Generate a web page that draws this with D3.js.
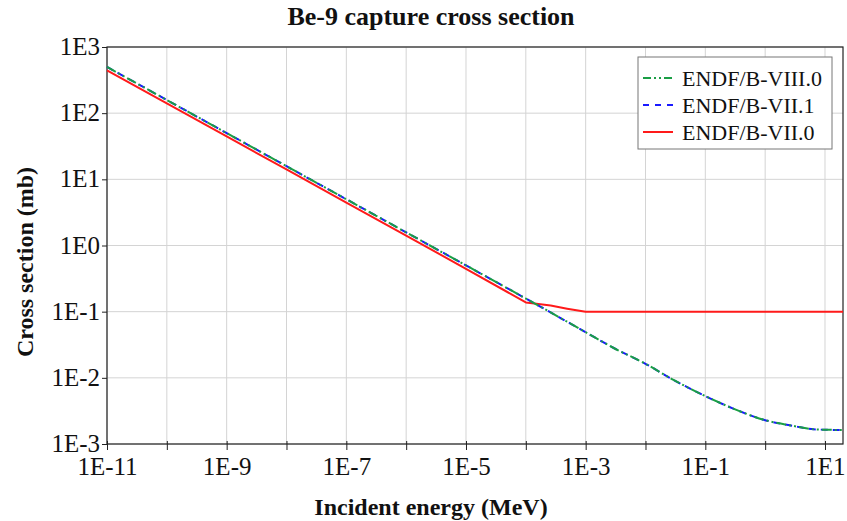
<!DOCTYPE html>
<html>
<head>
<meta charset="utf-8">
<script src="https://cdn.jsdelivr.net/npm/d3@7"></script>
<style>
  body { margin: 0; background: #fff; }
  svg { display: block; font-family: "Liberation Serif", "Times New Roman", serif; }
</style>
</head>
<body>
<svg id="chart" width="847" height="521"></svg>
<script>
// values (MeV, mb)
const energyB8 = [1e-11, 1e-10, 1e-9, 1e-8, 1e-7, 1e-6, 1e-5, 1e-4, 1e-3, 3e-3, 1e-2, 3e-2, 0.1, 0.3, 1, 3, 6.4, 11, 20];
const sigmaB8 = [500, 158, 50, 15.8, 5.0, 1.58, 0.5, 0.158, 0.049, 0.028, 0.0163, 0.0092, 0.0053, 0.0034, 0.00229, 0.00187, 0.00167, 0.00164, 0.00163];
const energyB71 = [1e-11, 1e-10, 1e-9, 1e-8, 1e-7, 1e-6, 1e-5, 1e-4, 1e-3, 3e-3, 1e-2, 3e-2, 0.1, 0.3, 1, 3, 6.4, 11, 20];
const sigmaB71 = [500, 158, 50, 15.8, 5.0, 1.58, 0.5, 0.158, 0.049, 0.028, 0.0163, 0.0092, 0.0053, 0.0034, 0.00229, 0.00187, 0.00167, 0.00164, 0.00163];
const energyB70 = [1e-11, 1e-10, 1e-9, 1e-8, 1e-7, 1e-6, 1e-5, 1e-4, 1.5e-4, 2.6e-4, 4.9e-4, 7e-4, 1e-3, 20];
const sigmaB70 = [445, 141, 44.5, 14.1, 4.45, 1.41, 0.445, 0.138, 0.132, 0.124, 0.111, 0.105, 0.1, 0.1];

const xTicks = [1e-11, 1e-10, 1e-9, 1e-8, 1e-7, 1e-6, 1e-5, 1e-4, 1e-3, 1e-2, 1e-1, 1, 10];
const xTickLabels = ['1E-11', '', '1E-9', '', '1E-7', '', '1E-5', '', '1E-3', '', '1E-1', '', '1E1'];
const yTicks = [1e-3, 1e-2, 1e-1, 1, 10, 100, 1000];
const yTickLabels = ['1E-3', '1E-2', '1E-1', '1E0', '1E1', '1E2', '1E3'];

const seriesNames = ['ENDF/B-VIII.0', 'ENDF/B-VII.1', 'ENDF/B-VII.0'];

const margin = { left: 107, right: 4, top: 47, bottom: 77 };
const width = 847;
const height = 521;

const svg = d3.select('#chart');

const x = d3.scaleLog()
    .domain([1e-11, 20])
    .range([margin.left, width - margin.right]);
const y = d3.scaleLog()
    .domain([1e-3, 1e3])
    .range([height - margin.bottom, margin.top]);

// grid
svg.append('g')
    .selectAll('line')
    .data(xTicks)
    .join('line')
    .attr('x1', d => x(d)).attr('x2', d => x(d))
    .attr('y1', y(1e-3)).attr('y2', y(1e3))
    .attr('stroke', '#d4d4d4').attr('stroke-width', 1);
svg.append('g')
    .selectAll('line')
    .data(yTicks)
    .join('line')
    .attr('x1', x(1e-11)).attr('x2', x(20))
    .attr('y1', d => y(d)).attr('y2', d => y(d))
    .attr('stroke', '#d4d4d4').attr('stroke-width', 1);

// frame
svg.append('rect')
    .attr('x', x(1e-11)).attr('y', y(1e3))
    .attr('width', x(20) - x(1e-11))
    .attr('height', y(1e-3) - y(1e3))
    .attr('fill', 'none')
    .attr('stroke', '#222').attr('stroke-width', 1.2);

// axes
const xAxis = d3.axisBottom(x)
    .tickValues(xTicks)
    .tickSize(6)
    .tickPadding(7)
    .tickFormat((d, i) => xTickLabels[i]);
const gx = svg.append('g')
    .attr('transform', `translate(0,${y(1e-3)})`)
    .call(xAxis);
gx.select('.domain').remove();
gx.selectAll('line').attr('stroke', '#222').attr('y1', -3);
gx.selectAll('text')
    .attr('font-family', '"Liberation Serif", serif')
    .attr('font-size', 25)
    .attr('fill', '#111');

const yAxis = d3.axisLeft(y)
    .tickValues(yTicks)
    .tickSize(5)
    .tickPadding(2)
    .tickFormat((d, i) => yTickLabels[i]);
const gy = svg.append('g')
    .attr('transform', `translate(${x(1e-11)},0)`)
    .call(yAxis);
gy.select('.domain').remove();
gy.selectAll('line').attr('stroke', '#222');
gy.selectAll('text')
    .attr('font-family', '"Liberation Serif", serif')
    .attr('font-size', 25)
    .attr('dy', '0.3em')
    .attr('fill', '#111');

// curves
const smooth = d3.line()
    .x(d => x(d[0]))
    .y(d => y(d[1]))
    .curve(d3.curveMonotoneX);
const straight = d3.line()
    .x(d => x(d[0]))
    .y(d => y(d[1]));

const series = [
    { name: seriesNames[2], e: energyB70, s: sigmaB70, color: '#ff1a1a', dash: null, gen: straight },
    { name: seriesNames[1], e: energyB71, s: sigmaB71, color: '#1a1aff', dash: '7,5', gen: smooth },
    { name: seriesNames[0], e: energyB8, s: sigmaB8, color: '#1a9e45', dash: '10,3,2,3,2,3', gen: smooth }
];

svg.append('g')
    .selectAll('path')
    .data(series)
    .join('path')
    .attr('d', d => d.gen(d.e.map((v, i) => [v, d.s[i]])))
    .attr('fill', 'none')
    .attr('stroke', d => d.color)
    .attr('stroke-width', 2)
    .attr('stroke-linejoin', 'round')
    .attr('stroke-dasharray', d => d.dash);

// legend
const legend = svg.append('g');
legend.append('rect')
    .attr('x', 638).attr('y', 57)
    .attr('width', 194).attr('height', 92)
    .attr('fill', '#fff')
    .attr('stroke', '#777').attr('stroke-width', 1);
const legendItems = [series[2], series[1], series[0]];
legendItems.forEach(function (d, i) {
    const ly = 78 + i * 27;
    legend.append('line')
        .attr('x1', 643).attr('x2', 673)
        .attr('y1', ly).attr('y2', ly)
        .attr('stroke', d.color)
        .attr('stroke-width', 2)
        .attr('stroke-dasharray', i === 0 ? '8,3,2,3,2,3' : (i === 1 ? '6,6' : null));
    legend.append('text')
        .attr('x', 682).attr('y', ly)
        .attr('dy', '0.35em')
        .attr('font-size', 22)
        .attr('fill', '#111')
        .text(d.name);
});

// titles
svg.append('text')
    .attr('x', 431).attr('y', 25)
    .attr('text-anchor', 'middle')
    .attr('font-size', 26)
    .attr('font-weight', 'bold')
    .attr('fill', '#111')
    .text('Be-9 capture cross section');

svg.append('text')
    .attr('x', 431).attr('y', 515)
    .attr('text-anchor', 'middle')
    .attr('font-size', 24)
    .attr('font-weight', 'bold')
    .attr('fill', '#111')
    .text('Incident energy (MeV)');

svg.append('text')
    .attr('transform', 'translate(33,262) rotate(-90)')
    .attr('text-anchor', 'middle')
    .attr('font-size', 24)
    .attr('font-weight', 'bold')
    .attr('fill', '#111')
    .text('Cross section (mb)');
</script>
</body>
</html>
